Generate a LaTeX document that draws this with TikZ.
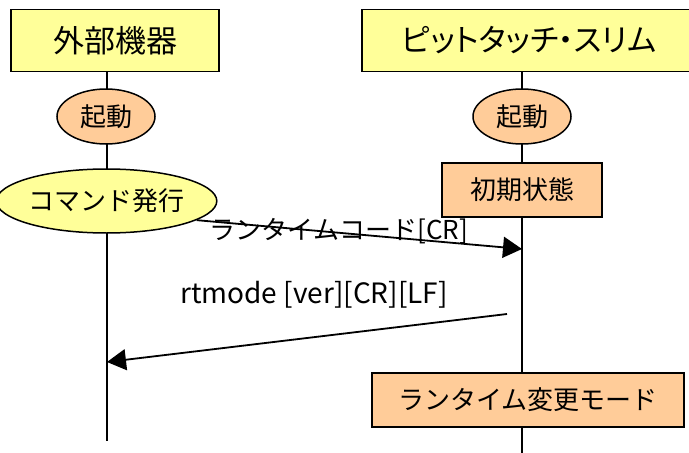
\documentclass[tikz,border=0pt]{standalone}
\usepackage{fontspec}
\newfontfamily\jpfont{Noto Sans CJK JP}
\newfontfamily\jppfont[RawFeature=+palt]{Noto Sans CJK JP}
\usetikzlibrary{arrows.meta,shapes.geometric}
\tikzset{headbox/.style={draw, line width=1.5pt, fill=yellow!40, minimum height=62pt, font=\jppfont\fontsize{31}{34}\selectfont},
statebox/.style={draw, line width=1.5pt, fill=orange!40, minimum height=54pt, font=\jpfont\fontsize{26}{30}\selectfont},
event/.style={draw, line width=1.5pt, ellipse, inner sep=0pt, font=\jpfont\fontsize{26}{30}\selectfont},
msg/.style={line width=1.8pt, -{Triangle[length=19pt,width=21pt]}},
msglabel/.style={font=\jpfont\fontsize{26}{30}\selectfont}}
\definecolor{peach}{HTML}{FFCC99}
\definecolor{lightyellow}{HTML}{FFFF99}

\begin{document}
\begin{tikzpicture}[x=1pt, y=-1pt]
    \useasboundingbox (0,0) rectangle (689,453);

    % Lifelines
    \coordinate (extend) at (107,441);
    \coordinate (slimend) at (522,453);

    % Headers
    \node[headbox, fill=lightyellow, minimum width=208pt] (extdev) at (115,40.5) {外部機器};
    \node[headbox, fill=lightyellow, minimum width=334pt] (slim) at (529,40.5) {ピットタッチ・スリム};

    \draw[line width=1.8pt] (extdev.south -| extend) -- (extend);
    \draw[line width=1.8pt] (slim.south -| slimend) -- (slimend);

    % Nodes
    \node[event, fill=peach, minimum width=98pt, minimum height=55pt] (extstart) at (106,116.5) {起動};
    \node[event, fill=lightyellow, minimum width=193pt, minimum height=64pt] (cmd) at (106.5,201) {コマンド発行};
    \node[event, fill=peach, minimum width=98pt, minimum height=55pt] (slimstart) at (522,116.5) {起動};
    \node[statebox, fill=peach, minimum width=160pt] (init) at (522,190) {初期状態};
    \node[statebox, fill=peach, minimum width=312pt] (rtmode) at (528,400) {ランタイム変更モード};

    % Messages
    \coordinate (codeend) at (522,249);
    \coordinate (replystart) at (507,314);
    \coordinate (replyend) at (107,362);
    \draw[msg] (cmd.-12) -- (codeend);
    \draw[msg] (replystart) -- (replyend);
    \node[msglabel] (codelabel) at (339,231) {ランタイムコード[CR]};
    \node[msglabel, font=\jpfont\fontsize{28}{30}\selectfont] (replylabel) at (314,295) {rtmode [ver][CR][LF]};
\end{tikzpicture}
\end{document}
